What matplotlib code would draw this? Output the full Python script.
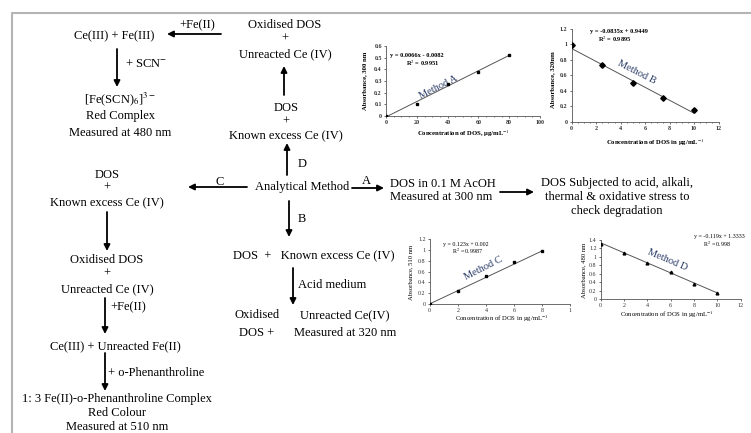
import numpy as np
import matplotlib
matplotlib.use("Agg")
import matplotlib.pyplot as plt
from matplotlib.ticker import MultipleLocator

plt.rcParams['font.family'] = ['Liberation Serif', 'DejaVu Serif']
plt.rcParams['mathtext.fontset'] = 'stix'

# ---- data ----
conc_A = [0, 20, 40, 60, 80]
abs_A = [0.0, 0.102, 0.273, 0.381, 0.526]
fit_A = (0.0066, -0.0082)

conc_B = [0, 2.5, 5, 7.5, 10]
abs_B = [0.985, 0.733, 0.504, 0.30, 0.147]
fit_B = (-0.0835, 0.9449)

conc_C = [0, 2, 4, 6, 8]
abs_C = [0.0, 0.247, 0.513, 0.773, 0.983]
fit_C = (0.123, 0.002)

conc_D = [0, 2, 4, 6, 8, 10]
abs_D = [1.297, 1.084, 0.854, 0.633, 0.364, 0.134]
fit_D = (-0.119, 1.3333)

W, H = 751, 433
fig = plt.figure(figsize=(W / 100, H / 100), dpi=100)
ov = fig.add_axes([0, 0, 1, 1])
ov.set_xlim(0, W)
ov.set_ylim(H, 0)
ov.axis('off')

# frame
ov.plot([12, 12, W], [H, 13, 13], color='#b4b4b4', lw=1.5, solid_capstyle='butt')

FS = 9.0


def txt(x, y, s, ha='center', fs=FS, **kw):
    ov.text(x, y, s, ha=ha, va='center', fontsize=fs, **kw)


def arr(x0, y0, x1, y1):
    ov.annotate('', xy=(x1, y1), xytext=(x0, y0),
                arrowprops=dict(arrowstyle='-|>', color='k', lw=1.3,
                                mutation_scale=9, shrinkA=0, shrinkB=0))


# top-left branch (D)
txt(114, 36, 'Ce(III) + Fe(III)')
txt(197, 25, '+Fe(II)')
arr(221, 34, 167, 34)
txt(285, 25, 'Oxidised DOS')
txt(285, 39, '+')
txt(285, 54, 'Unreacted Ce (IV)')
arr(284, 95, 284, 66)
txt(286, 108, 'DOS')
txt(286, 122, '+')
txt(286, 136, 'Known excess Ce (IV)')
arr(117, 49, 117, 87)
txt(125, 64, '+ SCN$^{-}$', ha='left')
txt(120, 99, '[Fe(SCN)$_6$]$^{3-}$')
txt(120, 116, 'Red Complex')
txt(120, 133, 'Measured at 480 nm')

# centre
txt(302, 187, 'Analytical Method')
arr(287, 175, 287, 143)
txt(298, 164, 'D', ha='left')
arr(247, 187, 188, 187)
txt(220, 182, 'C')
arr(352, 188, 384, 188)
txt(366, 181, 'A')
arr(289, 201, 289, 237)
txt(298, 219, 'B', ha='left')

# A branch
txt(390, 184, 'DOS in 0.1 M AcOH', ha='left')
txt(390, 197, 'Measured at 300 nm', ha='left')
arr(500, 192, 534, 192)
txt(617, 183, 'DOS Subjected to acid, alkali,')
txt(617, 197, 'thermal & oxidative stress to')
txt(617, 211, 'check degradation')

# B branch
txt(233, 256, 'DOS  +   Known excess Ce (IV)', ha='left')
arr(293, 268, 293, 305)
txt(298, 285, 'Acid medium', ha='left')
txt(257, 315, 'Oxidised')
txt(257, 333, 'DOS +')
txt(345, 315, 'Unreacted Ce(IV)')
txt(345, 333, 'Measured at 320 nm')

# C branch
txt(107, 175, 'DOS')
txt(107, 188, '+')
txt(107, 203, 'Known excess Ce (IV)')
arr(107, 212, 107, 251)
txt(107, 260, 'Oxidised DOS')
txt(107, 274, '+')
txt(107, 289, 'Unreacted Ce (IV)')
arr(105, 298, 105, 334)
txt(110, 307, '+Fe(II)', ha='left')
txt(115, 346, 'Ce(III) + Unreacted Fe(II)')
arr(105, 353, 105, 391)
txt(108, 373, '+ o-Phenanthroline', ha='left')
txt(117, 399, '1: 3 Fe(II)-o-Phenanthroline Complex')
txt(117, 413, 'Red Colour')
txt(117, 427, 'Measured at 510 nm')


def place(l, r, b, t):
    return fig.add_axes([l / W, (H - b) / H, (r - l) / W, (b - t) / H])


def style(ax, xlim, ylim, xmaj, ymaj, xminor, bold, xlabels=None):
    ax.set_xlim(*xlim)
    ax.set_ylim(*ylim)
    ax.patch.set_alpha(0)
    for s in ['top', 'right']:
        ax.spines[s].set_visible(False)
    for s in ['left', 'bottom']:
        ax.spines[s].set_linewidth(0.6)
        ax.spines[s].set_color('#555555')
    ax.xaxis.set_major_locator(MultipleLocator(xmaj))
    ax.yaxis.set_major_locator(MultipleLocator(ymaj))
    if xminor:
        ax.xaxis.set_minor_locator(MultipleLocator(xminor))
    ax.tick_params(which='both', labelsize=4.3, length=1.5, width=0.5,
                   pad=1.5, colors='#333333')
    ax.tick_params(which='minor', length=1.0)
    for lab in ax.get_xticklabels() + ax.get_yticklabels():
        lab.set_fontweight('bold' if bold else 'normal')
    if xlabels is not None:
        ax.set_xticks(np.arange(len(xlabels)) * xmaj)
        ax.set_xticklabels(xlabels, fontweight='bold' if bold else 'normal')


def yfmt(v):
    return ('%g' % v)


def trend(ax, xs, fit):
    x = np.array([min(xs), max(xs)], dtype=float)
    ax.plot(x, fit[0] * x + fit[1], color='#555555', lw=0.7, zorder=2)


navy = '#283a66'

# Chart A
axA = place(386, 540, 116, 46)
style(axA, (0, 100), (0, 0.6), 20, 0.1, 5, True)
trend(axA, conc_A, fit_A)
axA.plot(conc_A, abs_A, 's', color='k', ms=1.8, zorder=3)
axA.set_yticks(np.arange(0, 0.61, 0.1))
axA.set_yticklabels([yfmt(round(v, 1)) for v in np.arange(0, 0.61, 0.1)],
                    fontweight='bold')
ov.text(390, 55, 'y = 0.0066x - 0.0082', fontsize=4.6, ha='left', va='center', fontweight='bold')
ov.text(423, 63, 'R$^2$ = 0.9951', fontsize=4.6, ha='center', va='center', fontweight='bold')
ov.text(438, 87, 'Method A', fontsize=7.5, color=navy, rotation=27, ha='center', va='center')
ov.text(365, 81, 'Absorbance, 300 nm', fontsize=4.8, rotation=90, ha='center', va='center', fontweight='bold')
ov.text(463, 134, 'Concentration of DOS, µg/mL$^{-1}$', fontsize=4.8, ha='center', va='center', fontweight='bold')

# Chart B
axB = place(571.7, 718.5, 121.7, 28.8)
style(axB, (0, 12), (0, 1.2), 2, 0.2, 0.5, True)
axB.set_yticks(np.arange(0, 1.21, 0.2))
axB.set_yticklabels([yfmt(round(v, 1)) for v in np.arange(0, 1.21, 0.2)], fontweight='bold')
trend(axB, conc_B, fit_B)
axB.plot(conc_B, abs_B, 'D', color='k', ms=2.8, zorder=3)
ov.text(590, 32, 'y = -0.0835x + 0.9449', fontsize=4.6, ha='left', va='center', fontweight='bold')
ov.text(615, 39, 'R$^2$ = 0.9895', fontsize=4.6, ha='center', va='center', fontweight='bold')
ov.text(637, 72, 'Method B', fontsize=7.5, color=navy, rotation=-27, ha='center', va='center')
ov.text(553, 80, 'Absorbance, 320nm', fontsize=4.8, rotation=90, ha='center', va='center', fontweight='bold')
ov.text(655, 143, 'Concentration of DOS in µg/mL$^{-1}$', fontsize=4.8, ha='center', va='center', fontweight='bold')

# Chart C
axC = place(429.7, 570.4, 304, 239.3)
style(axC, (0, 10), (0, 1.2), 2, 0.2, None, False,
      xlabels=['0', '2', '4', '6', '8', '1'])
axC.set_yticks(np.arange(0, 1.21, 0.2))
axC.set_yticklabels([yfmt(round(v, 1)) for v in np.arange(0, 1.21, 0.2)])
trend(axC, conc_C, fit_C)
axC.plot(conc_C, abs_C, 's', color='k', ms=1.8, zorder=3)
ov.text(443, 244.5, 'y = 0.123x + 0.002', fontsize=4.3, ha='left', va='center')
ov.text(468, 251.5, 'R$^2$ = 0.9987', fontsize=4.3, ha='center', va='center')
ov.text(483, 268, 'Method C', fontsize=7.5, color=navy, rotation=27, ha='center', va='center')
ov.text(411, 272, 'Absorbance, 510 nm', fontsize=4.8, rotation=90, ha='center', va='center')
ov.text(502, 319, 'Concentration of DOS in µg/mL$^{-1}$', fontsize=4.8, ha='center', va='center')

# Chart D
axD = place(600.7, 740.7, 299, 240)
style(axD, (0, 12), (0, 1.4), 2, 0.2, None, False)
axD.set_yticks(np.arange(0, 1.41, 0.2))
axD.set_yticklabels([yfmt(round(v, 1)) for v in np.arange(0, 1.41, 0.2)])
trend(axD, conc_D, fit_D)
axD.plot(conc_D, abs_D, '^', color='k', ms=2.0, zorder=3)
ov.text(694, 236.5, 'y = -0.119x + 1.3333', fontsize=4.3, ha='left', va='center')
ov.text(717, 244, 'R$^2$ = 0.998', fontsize=4.3, ha='center', va='center')
ov.text(667, 260, 'Method D', fontsize=7.5, color=navy, rotation=-23, ha='center', va='center')
ov.text(584, 270, 'Absorbance, 480 nm', fontsize=4.8, rotation=90, ha='center', va='center')
ov.text(667, 315, 'Concentration of DOS in µg/mL$^{-1}$', fontsize=4.8, ha='center', va='center')

fig.savefig('out.png', dpi=100)
